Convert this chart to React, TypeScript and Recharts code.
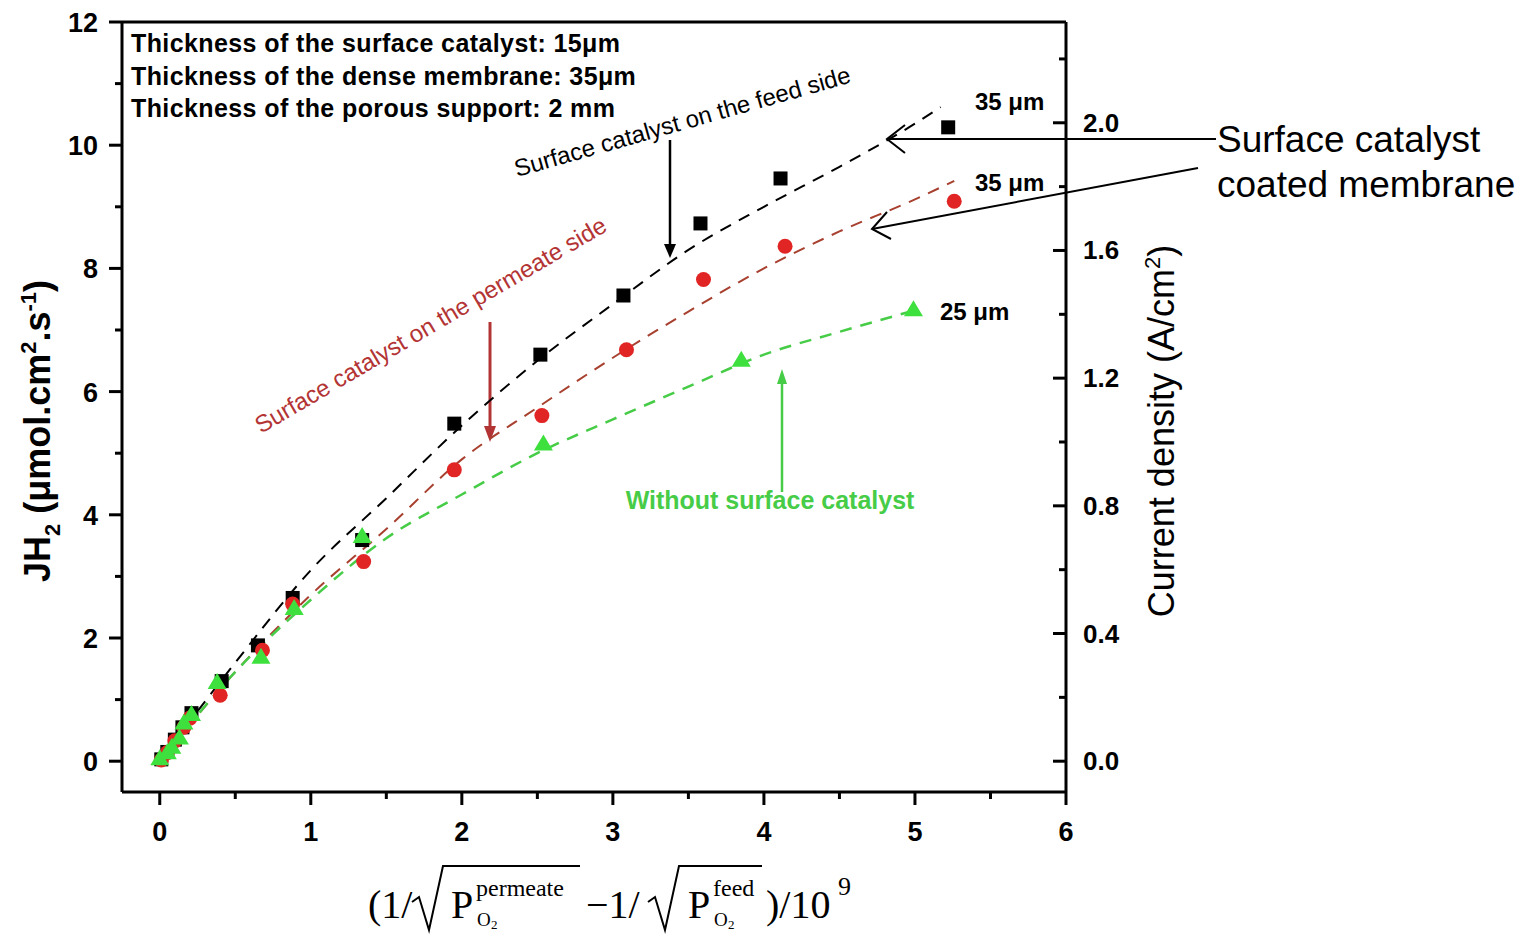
import React from "react";
import { ComposedChart, XAxis, YAxis, Scatter, Line, ReferenceLine, Customized } from "recharts";

// measured points: catalyst on feed side (squares)
const feedX = [0.01, 0.05, 0.1, 0.15, 0.21, 0.41, 0.65, 0.88, 1.34, 1.95, 2.52, 3.07, 3.58, 4.11, 5.22];
const feedY = [0.03, 0.15, 0.35, 0.55, 0.78, 1.3, 1.88, 2.65, 3.59, 5.48, 6.6, 7.56, 8.73, 9.46, 10.29];
// catalyst on permeate side (circles)
const permX = [0.01, 0.05, 0.1, 0.16, 0.2, 0.4, 0.68, 0.88, 1.35, 1.95, 2.53, 3.09, 3.6, 4.14, 5.26];
const permY = [0.02, 0.14, 0.33, 0.55, 0.7, 1.07, 1.8, 2.55, 3.24, 4.73, 5.61, 6.68, 7.82, 8.36, 9.09];
// no surface catalyst (triangles)
const bareX = [0.0, 0.05, 0.08, 0.13, 0.16, 0.21, 0.38, 0.67, 0.89, 1.34, 2.54, 3.85, 4.99];
const bareY = [0.03, 0.13, 0.22, 0.37, 0.61, 0.75, 1.27, 1.68, 2.47, 3.64, 5.14, 6.5, 7.32];

// fitted curves (dashed)
const feedFitX = [0, 0.5, 1, 1.5, 2, 2.5, 3, 3.5, 4, 4.5, 5, 5.17];
const feedFitY = [0, 1.6, 3.1, 4.27, 5.45, 6.5, 7.42, 8.3, 9.0, 9.65, 10.35, 10.62];
const permFitX = [0, 0.5, 1, 1.5, 2, 2.5, 3, 3.5, 4, 4.5, 5, 5.26];
const permFitY = [0, 1.45, 2.7, 3.77, 4.9, 5.74, 6.55, 7.3, 8.0, 8.6, 9.12, 9.42];
const bareFitX = [0, 0.5, 1, 1.5, 2, 2.5, 3, 3.5, 4, 4.5, 5];
const bareFitY = [0, 1.45, 2.62, 3.62, 4.33, 5.0, 5.55, 6.08, 6.6, 6.97, 7.32];

const xTicks = [0, 0.5, 1, 1.5, 2, 2.5, 3, 3.5, 4, 4.5, 5, 5.5, 6];
const leftTicks = [0, 1, 2, 3, 4, 5, 6, 7, 8, 9, 10, 11, 12];
const rightTicks = [0, 0.2, 0.4, 0.6, 0.8, 1.0, 1.2, 1.4, 1.6, 1.8, 2.0, 2.2];

// J(H2) in umol/cm2/s per A/cm2 (1/2F)
const FLUX_PER_AMP = 5.182;
const leftDomain = [-0.5, 12];
const rightDomain = [leftDomain[0] / FLUX_PER_AMP, leftDomain[1] / FLUX_PER_AMP];

const zip = (xs: number[], ys: number[]) => xs.map((x, i) => ({ x, y: ys[i] }));

const SANS = "'Liberation Sans', Arial, sans-serif";
const SERIF = "'Liberation Serif', 'Times New Roman', serif";
const RED = "#e12424";
const RED_LINE = "#a8402f";
const GREEN = "#3ee03e";
const GREEN_LINE = "#47cc47";
const RED_TEXT = "#b33434";

const Square = (p: any) => <rect x={p.cx - 7} y={p.cy - 7} width={14} height={14} fill="#000" />;
const Dot = (p: any) => <circle cx={p.cx} cy={p.cy} r={7.5} fill={RED} />;
const Tri = (p: any) => (
  <polygon points={`${p.cx},${p.cy - 10} ${p.cx - 9.5},${p.cy + 6} ${p.cx + 9.5},${p.cy + 6}`} fill={GREEN} />
);

const BottomTick = (props: any) => {
  const { x, y, payload } = props;
  const v = payload.value;
  const major = Number.isInteger(v);
  return (
    <g>
      <line x1={x} x2={x} y1={y} y2={y + (major ? 13 : 7)} stroke="#000" strokeWidth={3} />
      {major && (
        <text x={x} y={y + 49} textAnchor="middle" fontSize={27} fontWeight="bold" fontFamily={SANS}>
          {v}
        </text>
      )}
    </g>
  );
};

const LeftTick = (props: any) => {
  const { x, y, payload } = props;
  const v = payload.value;
  const major = v % 2 === 0;
  return (
    <g>
      <line x1={x - (major ? 13 : 7)} x2={x} y1={y} y2={y} stroke="#000" strokeWidth={3} />
      {major && (
        <text x={x - 24} y={y + 10} textAnchor="end" fontSize={27} fontWeight="bold" fontFamily={SANS}>
          {v}
        </text>
      )}
    </g>
  );
};

const RightTick = (props: any) => {
  const { x, y, payload } = props;
  const v = payload.value;
  const major = Math.round(v * 10) % 4 === 0;
  return (
    <g>
      <line x1={x - (major ? 13 : 7)} x2={x} y1={y} y2={y} stroke="#000" strokeWidth={3} />
      {major && (
        <text x={x + 17} y={y + 9} textAnchor="start" fontSize={26} fontWeight="bold" fontFamily={SANS}>
          {v.toFixed(1)}
        </text>
      )}
    </g>
  );
};

const Annotations = () => (
  <g>
    {/* condition notes */}
    <g fontFamily={SANS} fontWeight="bold" fontSize={25} letterSpacing={0.4}>
      <text x={131} y={52}>Thickness of the surface catalyst: 15μm</text>
      <text x={131} y={85}>Thickness of the dense membrane: 35μm</text>
      <text x={131} y={117}>Thickness of the porous support: 2 mm</text>
    </g>
    <g fontFamily={SANS} fontWeight="bold" fontSize={24}>
      <text x={975} y={110}>35 μm</text>
      <text x={975} y={191}>35 μm</text>
      <text x={940} y={320}>25 μm</text>
      <text x={770} y={509} textAnchor="middle" fontSize={25} fill={GREEN_LINE}>Without surface catalyst</text>
    </g>
    <text x={517} y={177} fontFamily={SANS} fontSize={24} transform="rotate(-15.8 517 177)">
      Surface catalyst on the feed side
    </text>
    <text x={261} y={434} fontFamily={SANS} fontSize={24} fill={RED_TEXT} transform="rotate(-30.4 261 434)">
      Surface catalyst on the permeate side
    </text>

    {/* arrows */}
    <line x1={670} y1={140} x2={670} y2={246} stroke="#000" strokeWidth={2.5} />
    <polygon points="664,244 676,244 670,258" fill="#000" />
    <line x1={490} y1={322} x2={490} y2={428} stroke={RED_TEXT} strokeWidth={3} />
    <polygon points="484,426 496,426 490,442" fill={RED_TEXT} />
    <line x1={782} y1={492} x2={782} y2={382} stroke={GREEN_LINE} strokeWidth={2.5} />
    <polygon points="777,384 787,384 782,369" fill={GREEN_LINE} />

    <line x1={1216} y1={139} x2={888} y2={139} stroke="#000" strokeWidth={2} />
    <polyline points="905,125 887,139 905,153" fill="none" stroke="#000" strokeWidth={2} />
    <line x1={1198} y1={168} x2={872} y2={229} stroke="#000" strokeWidth={2} />
    <polyline points="887,212 872,229 891,239" fill="none" stroke="#000" strokeWidth={2} />

    <g fontFamily={SANS} fontSize={37}>
      <text x={1217} y={152}>Surface catalyst</text>
      <text x={1217} y={197}>coated membrane</text>
    </g>

    {/* axis titles */}
    <text transform="translate(50 431) rotate(-90)" textAnchor="middle" fontFamily={SANS} fontWeight="bold" fontSize={36}>
      JH<tspan dy={10} fontSize={22}>2</tspan>
      <tspan dy={-10}> (μmol.cm</tspan>
      <tspan dy={-14} fontSize={22}>2</tspan>
      <tspan dy={14}>.s</tspan>
      <tspan dy={-14} fontSize={22}>-1</tspan>
      <tspan dy={14}>)</tspan>
    </text>
    <text transform="translate(1174 431) rotate(-90)" textAnchor="middle" fontFamily={SANS} fontSize={36}>
      Current density (A/cm<tspan dy={-14} fontSize={22}>2</tspan>
      <tspan dy={14}>)</tspan>
    </text>

    <g fontFamily={SERIF}>
      <text x={368} y={918} fontSize={40}>(1/</text>
      <path d="M412 902 L419 897 L429 930 L443 866 L580 866" fill="none" stroke="#000" strokeWidth={2} />
      <text x={451} y={918} fontSize={40}>P</text>
      <text x={476} y={896} fontSize={24}>permeate</text>
      <text x={477} y={926} fontSize={19}>O</text>
      <text x={491} y={929} fontSize={13}>2</text>
      <text x={586} y={918} fontSize={40}>−1/</text>
      <path d="M648 902 L655 897 L665 930 L679 866 L762 866" fill="none" stroke="#000" strokeWidth={2} />
      <text x={688} y={918} fontSize={40}>P</text>
      <text x={713} y={896} fontSize={24}>feed</text>
      <text x={714} y={926} fontSize={19}>O</text>
      <text x={728} y={929} fontSize={13}>2</text>
      <text x={766} y={918} fontSize={40}>)/10</text>
      <text x={838} y={895} fontSize={26}>9</text>
    </g>
  </g>
);

export default function App() {
  const axisLine = { stroke: "#000", strokeWidth: 3 };
  return (
    <div style={{ position: "absolute", left: 0, top: 0, background: "#fff" }}>
      <ComposedChart width={1529} height={935} margin={{ top: 22, right: 363, bottom: 83, left: 0 }}>
        <XAxis
          xAxisId="b"
          type="number"
          dataKey="x"
          domain={[-0.25, 6]}
          ticks={xTicks}
          interval={0}
          tick={BottomTick}
          tickLine={false}
          tickSize={0}
          tickMargin={0}
          axisLine={axisLine}
          height={60}
          allowDataOverflow
        />
        <YAxis
          yAxisId="l"
          type="number"
          domain={leftDomain}
          ticks={leftTicks}
          interval={0}
          tick={LeftTick}
          tickLine={false}
          tickSize={0}
          tickMargin={0}
          axisLine={axisLine}
          width={122}
          allowDataOverflow
        />
        <YAxis
          yAxisId="r"
          orientation="right"
          type="number"
          domain={rightDomain}
          ticks={rightTicks}
          interval={0}
          tick={RightTick}
          tickLine={false}
          tickSize={0}
          tickMargin={0}
          axisLine={axisLine}
          width={100}
          allowDataOverflow
        />
        {/* top frame line */}
        <ReferenceLine xAxisId="b" yAxisId="l" y={leftDomain[1]} stroke="#000" strokeWidth={3} />
        <Line xAxisId="b" yAxisId="l" data={zip(feedFitX, feedFitY)} dataKey="y" type="monotone" stroke="#000" strokeWidth={2} strokeDasharray="12 9" dot={false} isAnimationActive={false} />
        <Line xAxisId="b" yAxisId="l" data={zip(permFitX, permFitY)} dataKey="y" type="monotone" stroke={RED_LINE} strokeWidth={2} strokeDasharray="12 9" dot={false} isAnimationActive={false} />
        <Line xAxisId="b" yAxisId="l" data={zip(bareFitX, bareFitY)} dataKey="y" type="monotone" stroke={GREEN_LINE} strokeWidth={2.5} strokeDasharray="12 9" dot={false} isAnimationActive={false} />
        <Scatter xAxisId="b" yAxisId="l" data={zip(feedX, feedY)} dataKey="y" shape={Square} isAnimationActive={false} />
        <Scatter xAxisId="b" yAxisId="l" data={zip(permX, permY)} dataKey="y" shape={Dot} isAnimationActive={false} />
        <Scatter xAxisId="b" yAxisId="l" data={zip(bareX, bareY)} dataKey="y" shape={Tri} isAnimationActive={false} />
        <Customized component={Annotations} />
      </ComposedChart>
    </div>
  );
}
